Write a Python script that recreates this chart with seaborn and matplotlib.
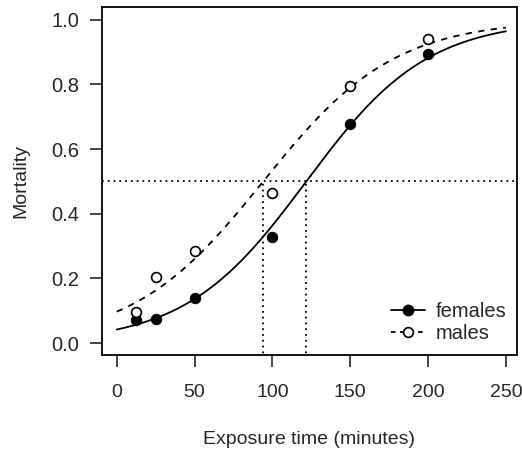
import numpy as np
import pandas as pd
import matplotlib
matplotlib.use("Agg")
import matplotlib.pyplot as plt
import seaborn as sns
from matplotlib.lines import Line2D

# observed mortality by exposure time
times = [12.5, 25, 50, 100, 150, 200]
females = [0.071, 0.073, 0.14, 0.329, 0.679, 0.893]
males = [0.097, 0.205, 0.284, 0.463, 0.794, 0.939]

# fitted logistic curves (intercept, slope on the logit scale)
fem_fit = (-3.13, 0.0257)
male_fit = (-2.23, 0.0237)
lt50 = [-fem_fit[0] / fem_fit[1], -male_fit[0] / male_fit[1]]

def main():
    sns.set_style("ticks")
    plt.rcParams['font.family'] = ['Liberation Sans', 'DejaVu Sans']

    pts = pd.DataFrame({'time': times * 2,
                        'mortality': females + males,
                        'sex': ['females'] * 6 + ['males'] * 6})
    grid = np.linspace(0, 250, 300)
    curves = pd.DataFrame({
        'time': np.concatenate([grid, grid]),
        'mortality': np.concatenate([1 / (1 + np.exp(-(fem_fit[0] + fem_fit[1] * grid))),
                                     1 / (1 + np.exp(-(male_fit[0] + male_fit[1] * grid)))]),
        'sex': ['females'] * len(grid) + ['males'] * len(grid)})

    fig = plt.figure(figsize=(5.22, 4.54), dpi=100)
    ax = fig.add_axes([0.195, 0.218, 0.795, 0.767])

    dots = (0, (1, 2.2))
    ax.axhline(0.5, color='black', lw=1.3, ls=dots)
    for x in lt50:
        ax.plot([x, x], [-0.05, 0.5], color='black', lw=1.3, ls=dots)

    sns.lineplot(data=curves, x='time', y='mortality', style='sex',
                 dashes={'females': '', 'males': (3.5, 3.5)}, color='black',
                 lw=1.3, legend=False, ax=ax)
    sns.scatterplot(data=pts[pts.sex == 'females'], x='time', y='mortality',
                    color='black', edgecolor='black', s=58, legend=False, ax=ax, zorder=3)
    sns.scatterplot(data=pts[pts.sex == 'males'], x='time', y='mortality',
                    color='white', edgecolor='black', linewidth=1.2, s=50,
                    legend=False, ax=ax, zorder=3)

    ax.set_xlim(-9.6, 257)
    ax.set_ylim(-0.037, 1.04)
    ax.set_xticks([0, 50, 100, 150, 200, 250])
    ax.set_yticks([0.0, 0.2, 0.4, 0.6, 0.8, 1.0])
    ax.set_yticklabels(['0.0', '0.2', '0.4', '0.6', '0.8', '1.0'])
    ax.tick_params(axis='x', length=8.5, width=1.2, pad=12, labelsize=14)
    ax.tick_params(axis='y', length=9, width=1.2, pad=7, labelsize=14.5)
    for s in ax.spines.values():
        s.set_visible(True)
        s.set_linewidth(1.3)
        s.set_color('black')

    ax.set_xlabel('Exposure time (minutes)', fontsize=14, labelpad=22)
    ax.set_ylabel('Mortality', fontsize=14, labelpad=16)

    handles = [Line2D([], [], color='black', lw=1.3, marker='o', markersize=7.5),
               Line2D([], [], color='black', lw=1.3, ls=(0, (2.5, 2.5)), marker='o',
                      markersize=7, markerfacecolor='white', markeredgewidth=1.2)]
    ax.legend(handles, ['females', 'males'], loc='lower right', frameon=False,
              fontsize=14.5, handlelength=1.7, handletextpad=0.55, labelspacing=0.15,
              bbox_to_anchor=(1.0, 0.006), borderaxespad=0.1)

    fig.savefig('out.png', dpi=100)

if __name__ == "__main__":
    main()
